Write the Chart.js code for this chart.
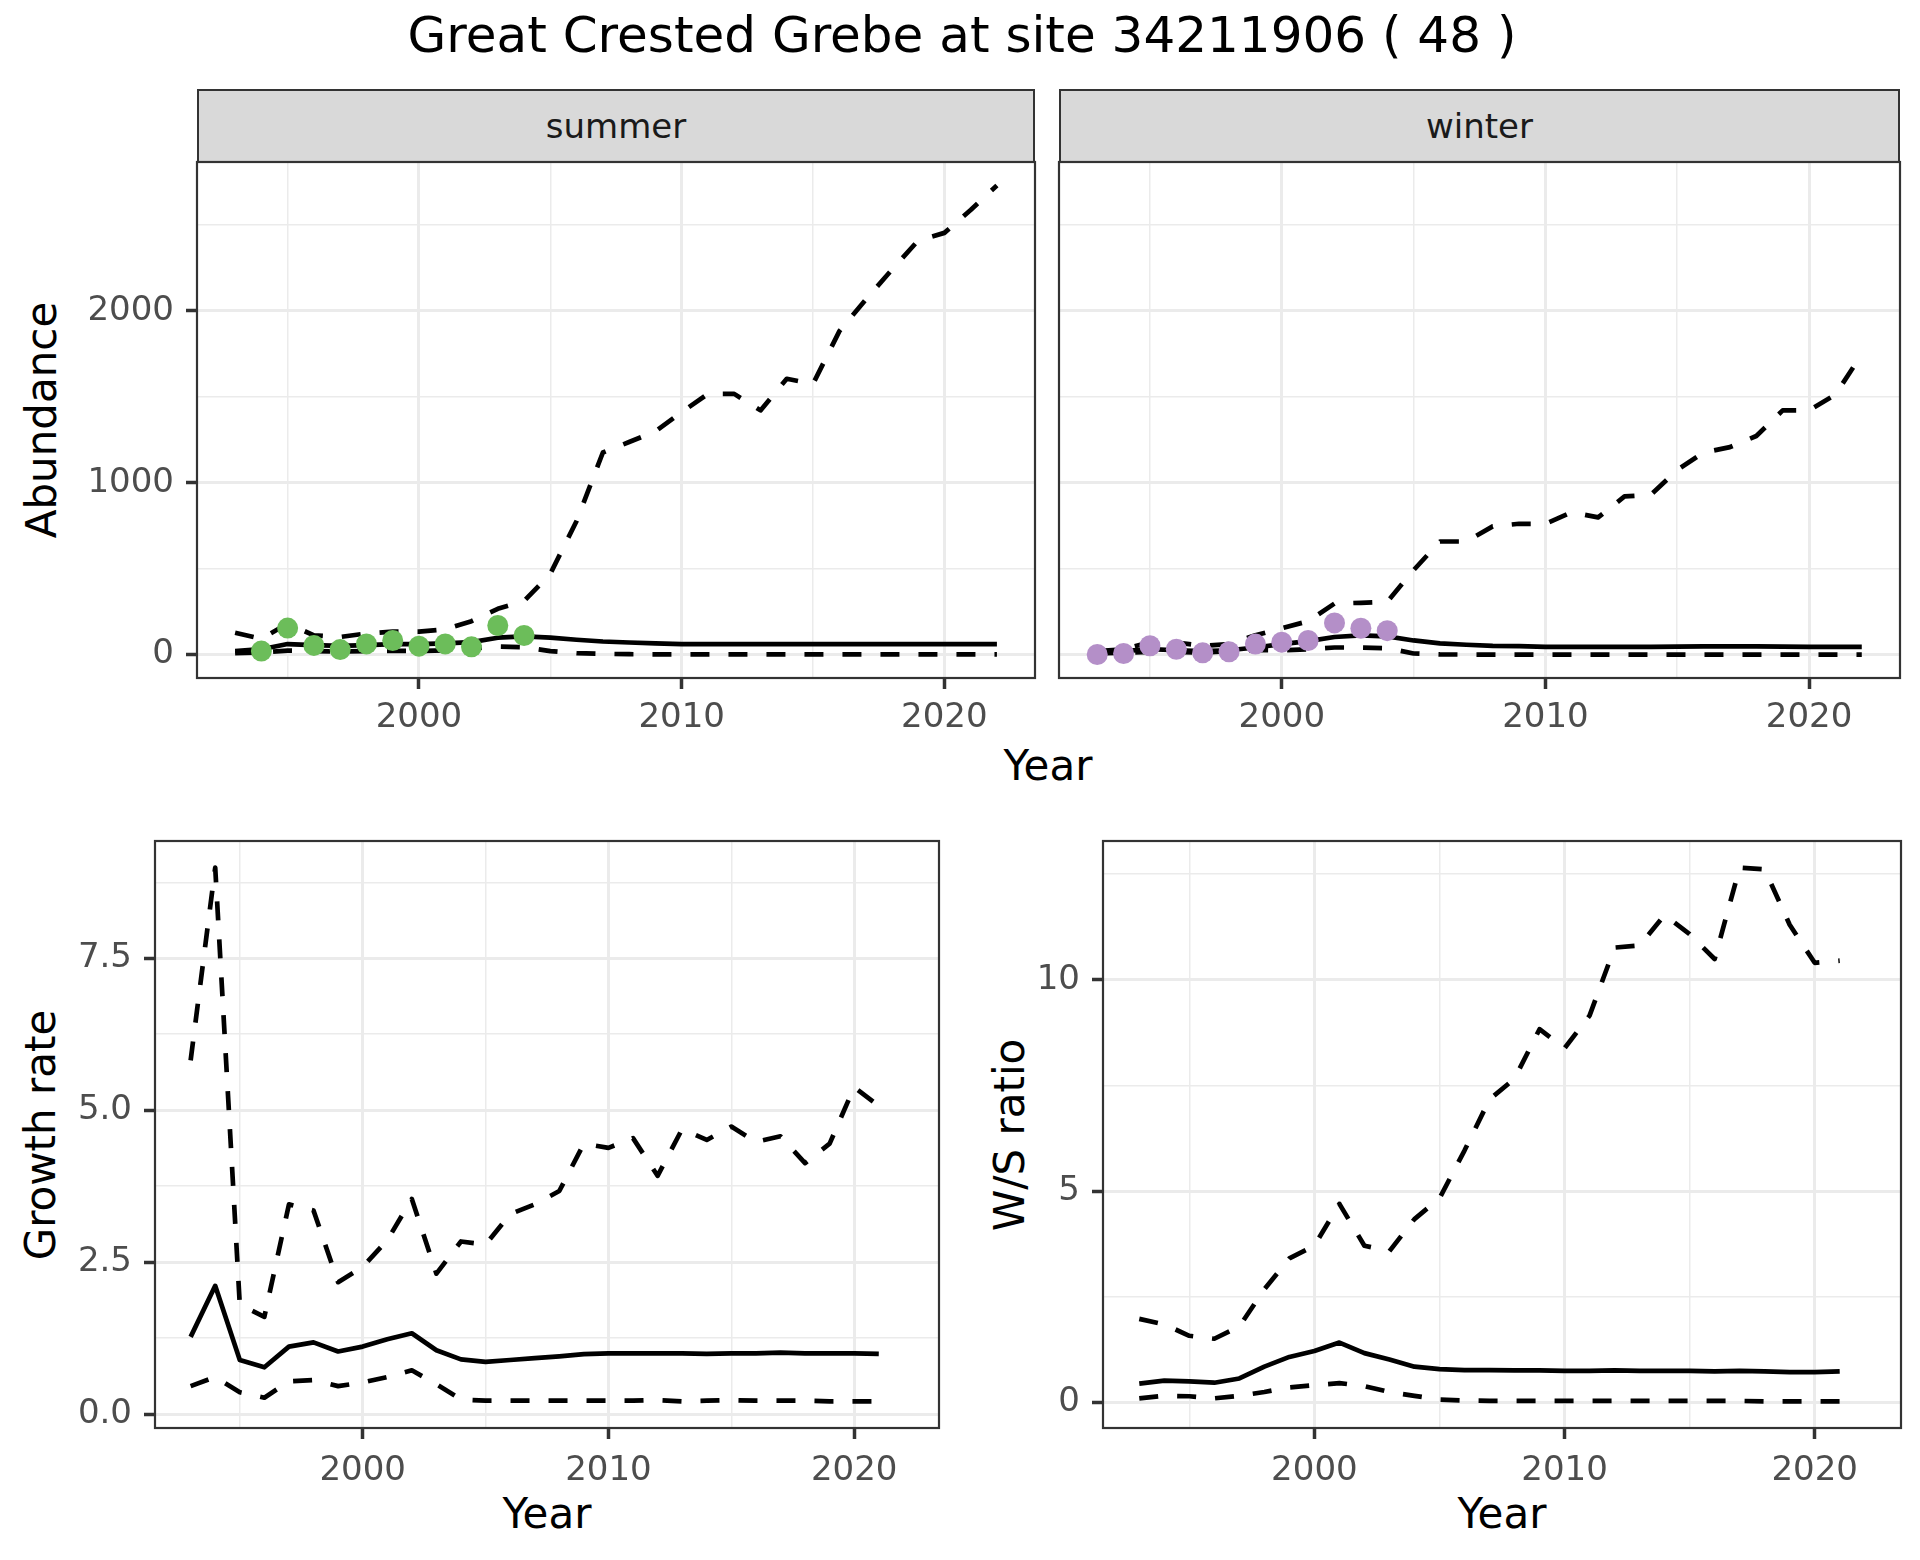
<!DOCTYPE html>
<html>
<head>
<meta charset="utf-8">
<script src="https://cdn.jsdelivr.net/npm/chart.js@4.4.1/dist/chart.umd.min.js"></script>
<style>
body { margin:0; background:#fff; font-family:"DejaVu Sans", sans-serif; }
#page { position:relative; width:1920px; height:1560px; overflow:hidden; background:#fff; }
canvas { position:absolute; }
.txt { position:absolute; white-space:nowrap; transform:translate(-50%,-50%); color:#000; }
.rot { transform:translate(-50%,-50%) rotate(-90deg); }
.strip { position:absolute; background:#d9d9d9; border:2px solid #333; box-sizing:border-box;
  display:flex; align-items:center; justify-content:center; font-size:34px; color:#1a1a1a; }
</style>
</head>
<body>
<div id="page">
  <div class="txt" style="left:962px;top:35px;font-size:50px;">Great Crested Grebe at site 34211906 ( 48 )</div>
  <div class="strip" style="left:197px;top:89px;width:838px;height:74px;">summer</div>
  <div class="strip" style="left:1059px;top:89px;width:841px;height:74px;">winter</div>
  <div class="txt rot" style="left:41px;top:420px;font-size:42px;">Abundance</div>
  <div class="txt" style="left:1048px;top:765px;font-size:42px;">Year</div>
  <div class="txt rot" style="left:40px;top:1135px;font-size:42px;">Growth rate</div>
  <div class="txt" style="left:547px;top:1513px;font-size:42px;">Year</div>
  <div class="txt rot" style="left:1009px;top:1135px;font-size:42px;">W/S ratio</div>
  <div class="txt" style="left:1502px;top:1513px;font-size:42px;">Year</div>
  <canvas id="cSummer"></canvas>
  <canvas id="cWinter"></canvas>
  <canvas id="cGrowth"></canvas>
  <canvas id="cRatio"></canvas>
</div>
<script>
// years of the model output
var years = [1993, 1994, 1995, 1996, 1997, 1998, 1999, 2000, 2001, 2002,
             2003, 2004, 2005, 2006, 2007, 2008, 2009, 2010, 2011, 2012,
             2013, 2014, 2015, 2016, 2017, 2018, 2019, 2020, 2021, 2022];

// observed counts
var summerCountYears = [1994, 1995, 1996, 1997, 1998, 1999, 2000, 2001, 2002, 2003, 2004];
var summerCounts = [20, 154, 53, 29, 62, 82, 49, 62, 45, 169, 111];
var winterCountYears = [1993, 1994, 1995, 1996, 1997, 1998, 1999, 2000, 2001, 2002, 2003, 2004];
var winterCounts = [0, 6, 51, 31, 10, 16, 61, 72, 82, 184, 153, 139];

// modelled abundance (mean, lower, upper)
var summerMean = [20, 31, 61, 55, 51, 55, 61, 61, 65, 72, 98, 106, 98, 86, 76,
                  70, 65, 61, 61, 61, 61, 61, 61, 61, 61, 61, 61, 61, 61, 61];
var summerLow = [8, 12, 23, 20, 18, 20, 22, 20, 25, 35, 47, 43, 20, 8, 4,
                 2, 1, 1, 1, 1, 1, 1, 1, 1, 1, 1, 1, 1, 1, 1];
var summerHigh = [127, 92, 180, 112, 102, 123, 133, 133, 147, 194, 266, 311, 470, 777, 1176,
                  1237, 1299, 1411, 1517, 1517, 1421, 1605, 1575, 1881, 2065, 2239, 2409, 2454, 2587, 2730];
var winterMean = [10, 20, 31, 25, 20, 25, 41, 61, 78, 102, 112, 106, 82, 65, 57,
                  51, 49, 45, 45, 45, 45, 45, 46, 47, 47, 47, 46, 45, 45, 45];
var winterLow = [6, 10, 16, 16, 10, 20, 25, 25, 31, 41, 41, 37, 6, 1, 0,
                 0, 0, 0, 0, 0, 0, 0, 0, 0, 0, 0, 0, 0, 0, 0];
var winterHigh = [20, 31, 72, 70, 51, 61, 112, 153, 194, 297, 301, 307, 491, 658, 658,
                  746, 761, 761, 828, 798, 920, 930, 1074, 1176, 1207, 1272, 1421, 1421, 1513, 1748];

// growth rate and winter/summer ratio, 1993-2021
var rateYears = [1993, 1994, 1995, 1996, 1997, 1998, 1999, 2000, 2001, 2002,
                 2003, 2004, 2005, 2006, 2007, 2008, 2009, 2010, 2011, 2012,
                 2013, 2014, 2015, 2016, 2017, 2018, 2019, 2020, 2021];
var growthMean = [1.27, 2.11, 0.89, 0.77, 1.11, 1.18, 1.03, 1.11, 1.23, 1.33, 1.05, 0.90, 0.86, 0.89, 0.92,
                  0.95, 0.985, 1.0, 1.0, 1.0, 1.0, 0.99, 1.0, 1.0, 1.01, 1.0, 1.0, 1.0, 0.99];
var growthLow = [0.46, 0.61, 0.36, 0.27, 0.54, 0.56, 0.46, 0.52, 0.61, 0.72, 0.49, 0.24, 0.22, 0.22, 0.22,
                 0.22, 0.22, 0.22, 0.22, 0.23, 0.21, 0.22, 0.23, 0.22, 0.22, 0.22, 0.21, 0.21, 0.21];
var growthHigh = [5.82, 8.99, 1.80, 1.60, 3.45, 3.35, 2.17, 2.42, 2.86, 3.54, 2.31, 2.84, 2.79, 3.29, 3.45,
                  3.67, 4.45, 4.38, 4.54, 3.92, 4.69, 4.51, 4.73, 4.48, 4.57, 4.13, 4.45, 5.38, 5.07];
var ratioMean = [0.45, 0.52, 0.50, 0.47, 0.57, 0.85, 1.08, 1.22, 1.42, 1.17, 1.02, 0.85, 0.79, 0.77, 0.77,
                 0.76, 0.76, 0.75, 0.75, 0.76, 0.75, 0.75, 0.75, 0.74, 0.75, 0.74, 0.72, 0.72, 0.74];
var ratioLow = [0.10, 0.16, 0.15, 0.10, 0.16, 0.25, 0.36, 0.41, 0.46, 0.39, 0.25, 0.16, 0.07, 0.05, 0.04,
                0.04, 0.04, 0.04, 0.04, 0.04, 0.04, 0.04, 0.04, 0.04, 0.04, 0.03, 0.03, 0.03, 0.03];
var ratioHigh = [1.98, 1.85, 1.58, 1.51, 1.80, 2.68, 3.41, 3.71, 4.70, 3.71, 3.58, 4.34, 4.83, 5.96, 7.17,
                 7.66, 8.83, 8.38, 9.15, 10.76, 10.81, 11.53, 11.08, 10.49, 12.65, 12.61, 11.30, 10.40, 10.45];

var summerColour = '#6cbd5a';
var winterColour = '#b48fc8';

// ggplot style 5% expansion of the data range
function expand(lo, hi){
    var d = (hi - lo) * 0.05;
    return [lo - d, hi + d];
}
var xLim = expand(years[0], years[years.length - 1]);
var abLim = expand(0, Math.max(Math.max.apply(null, summerHigh), Math.max.apply(null, winterHigh)));
var grLim = expand(Math.min.apply(null, growthLow), Math.max.apply(null, growthHigh));
var raLim = expand(Math.min.apply(null, ratioLow), Math.max.apply(null, ratioHigh));

function pairs(xs, ys){
    return xs.map(function(x, i){ return {x: x, y: ys[i]}; });
}

function lineSet(xs, ys, dashed){
    return {
        data: pairs(xs, ys),
        borderColor: '#000',
        borderWidth: 4.7,
        borderDash: dashed ? [19, 19] : [],
        borderJoinStyle: 'round',
        pointRadius: 0,
        tension: 0,
        fill: false
    };
}

function pointSet(xs, ys, colour){
    return {
        data: pairs(xs, ys),
        showLine: false,
        pointRadius: 10.5,
        pointBackgroundColor: colour,
        pointBorderWidth: 0,
        borderColor: colour
    };
}

var panelBorder = {
    id: 'panelBorder',
    afterDatasetsDraw: function(chart){
        var a = chart.chartArea, c = chart.ctx;
        c.save();
        c.strokeStyle = '#333333';
        c.lineWidth = 2.2;
        c.strokeRect(a.left, a.top, a.right - a.left, a.bottom - a.top);
        c.restore();
    }
};

function isMultiple(v, step){
    var r = v / step;
    return Math.abs(r - Math.round(r)) < 1e-6;
}

// ticks at every multiple of step inside the axis range
function stepTicks(step){
    return function(s){
        var k0 = Math.ceil(s.min / step - 1e-9), k1 = Math.floor(s.max / step + 1e-9);
        var out = [];
        for (var k = k0; k <= k1; k++) out.push({value: k * step});
        s.ticks = out;
    };
}

function gridOpts(majorStep, showTicks){
    var isMajor = function(ctx){
        return ctx.tick ? isMultiple(ctx.tick.value, majorStep) : false;
    };
    return {
        color: '#ebebeb',
        lineWidth: function(ctx){ return isMajor(ctx) ? 3 : 1.5; },
        tickColor: function(ctx){ return (showTicks && isMajor(ctx)) ? '#333333' : 'rgba(0,0,0,0)'; },
        tickWidth: 3.5,
        tickLength: 11,
        drawTicks: true
    };
}

// box = plot area in page pixels; yW = room for y labels; xH = room for x labels
function drawPanel(id, box, datasets, yLim, yStep, yMajor, yFmt, showY, xPad){
    var pad = 40, yW = showY ? 160 : 20, xH = 80;
    var el = document.getElementById(id);
    var w = (box.r - box.l) + yW + pad;
    var h = (box.b - box.t) + pad + xH;
    el.width = w; el.height = h;
    el.style.left = (box.l - yW) + 'px';
    el.style.top = (box.t - pad) + 'px';
    el.style.width = w + 'px';
    el.style.height = h + 'px';
    var tickFont = {family: 'DejaVu Sans', size: 34};
    new Chart(el, {
        type: 'line',
        data: {datasets: datasets},
        options: {
            responsive: false,
            animation: false,
            devicePixelRatio: 1,
            layout: {padding: {top: pad, right: pad, left: 0, bottom: 0}},
            plugins: {legend: {display: false}, tooltip: {enabled: false}},
            scales: {
                x: {
                    type: 'linear', min: xLim[0], max: xLim[1],
                    afterBuildTicks: stepTicks(5),
                    afterFit: function(s){ s.height = xH; },
                    border: {display: false},
                    grid: gridOpts(10, true),
                    ticks: {
                        autoSkip: false, maxRotation: 0,
                        padding: xPad, color: '#4d4d4d', font: tickFont,
                        callback: function(v){ return isMultiple(v, 10) ? String(Math.round(v)) : ''; }
                    }
                },
                y: {
                    type: 'linear', min: yLim[0], max: yLim[1],
                    afterBuildTicks: stepTicks(yStep),
                    afterFit: function(s){ s.width = yW; },
                    border: {display: false},
                    grid: gridOpts(yMajor, showY),
                    ticks: {
                        autoSkip: false,
                        padding: 12, color: '#4d4d4d', font: tickFont,
                        callback: function(v){
                            if (!showY) return '';
                            return isMultiple(v, yMajor) ? yFmt(v) : '';
                        }
                    }
                }
            }
        },
        plugins: [panelBorder]
    });
}

var fmtInt = function(v){ return String(Math.round(v)); };
var fmtOne = function(v){ return (Math.round(v * 10) / 10).toFixed(1); };

drawPanel('cSummer', {l: 197, t: 162, r: 1035, b: 678}, [
    pointSet(summerCountYears, summerCounts, summerColour),
    lineSet(years, summerMean, false),
    lineSet(years, summerLow, true),
    lineSet(years, summerHigh, true)
], abLim, 500, 1000, fmtInt, true, 9);

drawPanel('cWinter', {l: 1059, t: 162, r: 1900, b: 678}, [
    pointSet(winterCountYears, winterCounts, winterColour),
    lineSet(years, winterMean, false),
    lineSet(years, winterLow, true),
    lineSet(years, winterHigh, true)
], abLim, 500, 1000, fmtInt, false, 9);

drawPanel('cGrowth', {l: 155, t: 841, r: 939, b: 1428}, [
    lineSet(rateYears, growthMean, false),
    lineSet(rateYears, growthLow, true),
    lineSet(rateYears, growthHigh, true)
], grLim, 1.25, 2.5, fmtOne, true, 12);

drawPanel('cRatio', {l: 1103, t: 841, r: 1901, b: 1428}, [
    lineSet(rateYears, ratioMean, false),
    lineSet(rateYears, ratioLow, true),
    lineSet(rateYears, ratioHigh, true)
], raLim, 2.5, 5, fmtInt, true, 12);
</script>
</body>
</html>
